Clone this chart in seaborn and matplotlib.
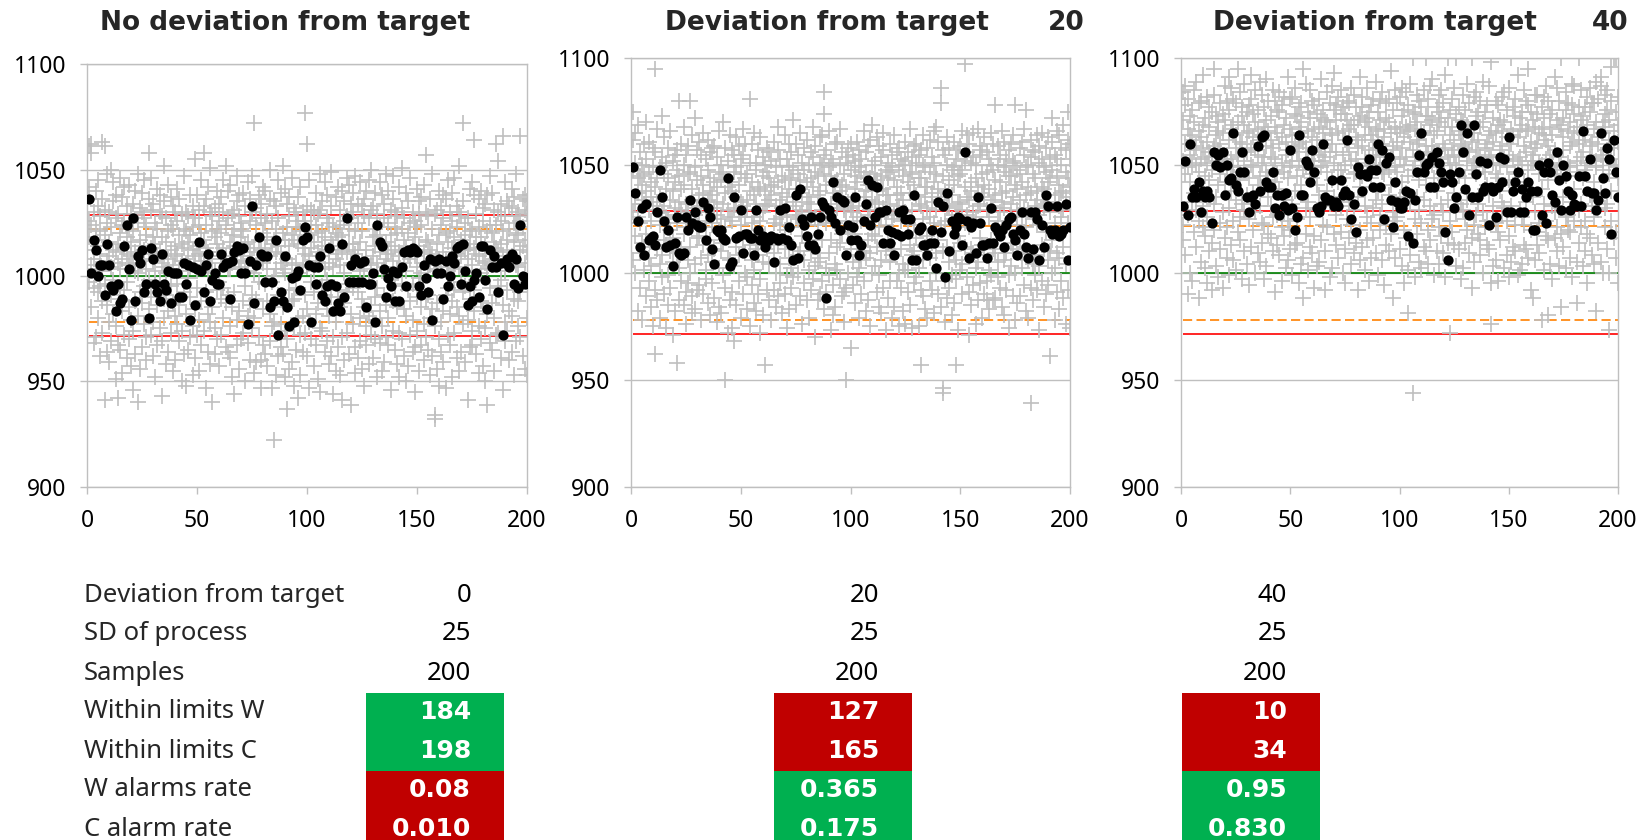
import matplotlib

matplotlib.use("Agg")
import matplotlib.pyplot as plt
import numpy as np
import pandas as pd
import seaborn as sns

# control chart settings
target = 1000
shifts = [0, 20, 40]
samples_per_point = 5
warn_limits = [978.1, 1021.9]
action_limits = [971.2, 1028.8]
panel_titles = ["No deviation from target", "Deviation from target", "Deviation from target"]
panel_title_values = ["", "20", "40"]

# sample means (black dots), one per sample
means_0 = [
    1036, 1001, 1017, 1012, 1000, 1005, 1005, 991, 1015, 1005,
    995, 993, 983, 996, 987, 989, 1014, 1024, 1003, 979,
    1027, 988, 1009, 1006, 1012, 992, 996, 980, 1013, 1008,
    996, 992, 988, 1010, 996, 993, 1002, 987, 1001, 1001,
    1001, 990, 990, 1006, 996, 1005, 979, 1004, 986, 1003,
    1016, 1002, 992, 1005, 1010, 988, 998, 1001, 996, 996,
    1010, 1004, 1006, 1006, 989, 1007, 1011, 1014, 1012, 1001,
    1013, 1001, 977, 1007, 1033, 987, 1005, 1018, 1010, 1009,
    997, 1009, 985, 997, 988, 1017, 972, 992, 988, 1009,
    985, 976, 999, 978, 1000, 1002, 993, 1017, 1023, 1018,
    1005, 978, 1004, 996, 1004, 1009, 991, 988, 995, 1013,
    996, 983, 995, 987, 983, 1015, 990, 1027, 997, 1005,
    997, 1008, 997, 1006, 997, 1007, 985, 996, 996, 1001,
    978, 1024, 1016, 1014, 1003, 990, 999, 995, 1002, 988,
    1001, 988, 1004, 1011, 995, 1012, 1011, 1013, 1012, 1011,
    995, 991, 1005, 999, 992, 1008, 979, 1007, 1001, 1008,
    1001, 989, 1007, 995, 1000, 1009, 1006, 1013, 1014, 996,
    1015, 1002, 986, 995, 988, 998, 1001, 990, 1014, 1014,
    998, 984, 1012, 1004, 1009, 1004, 992, 1006, 972, 1006,
    1008, 1004, 1010, 996, 1008, 994, 1024, 1000, 996, 999,
]
means_20 = [
    1049, 1037, 1024, 1012, 1030, 1008, 1032, 1015, 1016, 1017,
    1013, 1028, 1048, 1035, 1024, 1012, 1020, 1013, 1003, 1014,
    1026, 1009, 1008, 1009, 1026, 1020, 1034, 1023, 1028, 1022,
    1021, 1021, 1033, 1015, 1030, 1026, 1011, 1004, 1020, 1019,
    1020, 1016, 1015, 1044, 1003, 1005, 1035, 1016, 1017, 1029,
    1009, 1018, 1018, 1016, 1016, 1008, 1029, 1020, 1015, 1017,
    1012, 1016, 1015, 1017, 1005, 1016, 1015, 1029, 1016, 1030,
    1015, 1021, 1013, 1006, 1036, 1007, 1039, 1025, 1022, 1017,
    1013, 1026, 1013, 1011, 1018, 1026, 1033, 1031, 988, 1029,
    1026, 1042, 1023, 1035, 1020, 1034, 1033, 1008, 1022, 1015,
    1021, 1035, 1015, 1008, 1013, 1024, 1032, 1043, 1022, 1041,
    1026, 1040, 1028, 1028, 1014, 1029, 1020, 1014, 1019, 1008,
    1018, 1028, 1017, 1029, 1025, 1018, 1025, 1006, 1036, 1006,
    1020, 1021, 1013, 1013, 1008, 1014, 1020, 1014, 1002, 1033,
    1019, 1031, 998, 1037, 1010, 1024, 1018, 1021, 1026, 1025,
    1013, 1056, 1024, 1007, 1021, 1023, 1009, 1035, 1023, 1013,
    1013, 1007, 1014, 1030, 1014, 1021, 1019, 1017, 1020, 1012,
    1022, 1025, 1026, 1018, 1015, 1008, 1020, 1028, 1018, 1012,
    1007, 1028, 1011, 1028, 1025, 1006, 1022, 1012, 1036, 1031,
    1020, 1018, 1020, 1031, 1017, 1018, 1020, 1032, 1006, 1021,
]
means_40 = [
    1031, 1052, 1027, 1060, 1035, 1039, 1035, 1042, 1028, 1038,
    1035, 1038, 1035, 1023, 1056, 1050, 1055, 1049, 1056, 1036,
    1050, 1043, 1044, 1065, 1041, 1038, 1047, 1056, 1047, 1035,
    1028, 1035, 1036, 1032, 1059, 1038, 1063, 1064, 1042, 1040,
    1040, 1047, 1030, 1036, 1027, 1036, 1031, 1037, 1029, 1057,
    1030, 1020, 1026, 1064, 1036, 1036, 1052, 1050, 1042, 1057,
    1047, 1030, 1028, 1031, 1060, 1035, 1034, 1034, 1043, 1031,
    1033, 1031, 1043, 1036, 1038, 1062, 1036, 1025, 1032, 1019,
    1049, 1046, 1038, 1046, 1045, 1053, 1048, 1040, 1048, 1060,
    1040, 1057, 1025, 1051, 1054, 1034, 1021, 1042, 1033, 1030,
    1030, 1033, 1038, 1017, 1037, 1014, 1034, 1047, 1055, 1065,
    1047, 1050, 1051, 1040, 1054, 1040, 1056, 1051, 1047, 1042,
    1019, 1006, 1046, 1042, 1030, 1035, 1047, 1069, 1056, 1039,
    1065, 1027, 1035, 1069, 1046, 1035, 1052, 1038, 1040, 1051,
    1022, 1040, 1038, 1026, 1040, 1054, 1042, 1053, 1028, 1063,
    1028, 1038, 1042, 1047, 1028, 1039, 1028, 1035, 1042, 1038,
    1020, 1020, 1038, 1050, 1027, 1047, 1023, 1051, 1047, 1036,
    1033, 1056, 1043, 1029, 1050, 1045, 1038, 1029, 1036, 1032,
    1031, 1045, 1031, 1066, 1045, 1038, 1053, 1037, 1037, 1029,
    1034, 1065, 1044, 1037, 1058, 1053, 1018, 1062, 1047, 1035,
]

# individual measurements (grey crosses), 5 per sample, offset from the process mean
obs_0 = [
    61, 42, 18, -3, 26, 62, 24, 5, -15, 58,
    -32, 12, 30, 8, -6, 40, 17, -29, 3, 22,
    14, -20, 33, -8, 45, -5, 28, -38, 10, 21,
    63, -12, 36, 2, -27, 61, -59, 19, -4, 31,
    7, -36, 25, 48, -14, 9, 30, -22, -41, 16,
    50, -9, 23, -31, 4, 44, 12, -18, 35, -2,
    -49, 27, 11, -24, 38, 15, -58, 6, 29, -33,
    20, -11, 46, -35, 3, -17, 37, 24, -46, 8,
    26, -7, -28, 13, 42, -39, 18, -3, 33, 10,
    43, -15, 22, -30, 5, 29, -43, 9, 16, -21,
    -54, 21, 6, -26, 34, 11, -12, 40, -37, 2,
    48, -60, 25, 1, -19, 32, -8, -44, 17, 14,
    30, -13, 8, 39, -34, -23, 45, 12, -5, 27,
    19, -40, 3, 23, -29, 36, -16, 58, -2, 10,
    -28, 13, 31, -10, 46, 7, -22, 34, -38, 18,
    2, 25, -48, 15, -6, 22, -33, 41, 9, -14,
    30, -25, 11, -3, 38, -57, 18, 6, -31, 28,
    4, 35, -20, 52, -11, 16, -42, 27, 1, -9,
    -17, 43, 8, -36, 21, 12, -27, 37, -5, 24,
    5, -45, 22, 33, -13, -19, 30, 9, -40, 14,
    26, -4, 41, -23, 10, 36, -14, 2, -31, 19,
    -50, 15, 7, -26, 29, 13, -37, 22, 47, -8,
    21, -52, 6, 30, -18, 8, 28, -35, 16, -1,
    38, -10, 19, -29, 4, -24, 12, 33, -47, 23,
    55, -16, 27, -39, 9, 14, 38, -6, -28, 2,
    -21, 31, 10, -45, 24, 20, -33, 45, 7, -12,
    58, 17, -26, 5, 33, -53, 13, 24, -8, 36,
    11, -36, 42, 1, -18, 51, -22, 9, 30, -42,
    -15, 28, -60, 21, 6, 32, 2, -37, 18, -25,
    22, 40, -7, -30, 15, -3, 26, -43, 11, 34,
    -11, 20, 37, -28, 8, -6, 45, 13, -20, 30,
    9, -34, 24, -13, 52, 27, -9, 40, -36, 3,
    -24, 16, 3, 43, -39, 19, -48, 29, 6, -15,
    31, -56, 14, -8, 22, 10, 35, -21, 47, -33,
    4, 28, -17, 38, -44, 18, 22, -30, 7, 25,
    -12, 39, 21, -27, 9, 33, -5, 15, -50, 2,
    16, -19, 44, 6, -32, 26, -14, 36, -40, 11,
    8, 30, -25, 47, -9, -46, 13, 72, -20, 1,
    24, -11, 5, -41, 32, 17, -29, 38, 7, -3,
    12, -40, 34, 27, -53, 20, 6, -16, 42, -33,
    -4, 25, -37, 13, 40, 3, 29, -12, -43, 18,
    -18, 36, 9, -31, 50, 26, -3, -53, 15, -24,
    35, 0, -22, 17, -78, 33, -47, 11, 3, 22,
    -38, 14, 27, -9, 45, 10, -23, 39, -34, 6,
    20, -37, 52, 3, -15, 41, 1, -48, -26, 17,
    -63, 23, 8, -30, 34, 28, -44, 14, -7, 37,
    19, -12, 46, -41, 5, -24, 17, 32, -11, -52,
    6, 30, -35, 23, -6, 15, -58, 26, 37, -20,
    21, 1, -28, 42, -47, 13, -19, 30, 5, -36,
    77, 26, -9, 10, -27, 62, 33, -16, 4, -38,
    9, -53, 19, 45, -22, 31, -3, 13, -30, 24,
    -8, 30, -43, 16, 2, 39, -18, 24, -33, 7,
    29, 11, -49, 20, -13, 48, -55, 9, 31, -25,
    14, -26, 35, -5, 21, -36, 18, 44, -9, 3,
    -16, 27, -2, 38, -31, 12, -42, 25, 6, -19,
    33, -10, 17, -38, 49, 4, 23, -29, 14, -56,
    -45, 20, 8, -22, 37, 18, -7, 42, -34, 10,
    24, -15, 31, -47, 5, -29, 12, 40, -59, 19,
    -13, 35, 1, 26, -40, 28, -8, -27, 46, 11,
    43, -37, 15, 22, -4, -61, 34, 6, -18, 27,
    15, -23, 39, -6, 30, 10, -34, 21, -46, 47,
    25, -8, -39, 12, 34, -20, 44, 2, -31, 16,
    -11, 33, 21, -44, 7, 36, -15, 28, -52, 3,
    12, 40, -24, 8, -33, -19, 27, -3, 45, -42,
    31, -14, 5, 50, -28, 18, -39, 33, 9, -21,
    -30, 22, 14, -10, 39, 6, -48, 19, 29, -6,
    23, -32, 44, 11, -17, 38, -24, 2, 15, -45,
    -9, 27, -41, 34, 4, 16, -14, 48, -29, 8,
    40, -20, 10, -33, 25, -54, 12, 31, -2, 19,
    -26, 7, 36, -12, 47, 23, -35, 14, -5, 30,
    20, -42, 28, 3, -15, 11, 42, -27, 9, -48,
    32, -4, -30, 22, 51, -16, 27, -38, 6, 17,
    -19, 13, 39, -50, 2, 35, -7, 20, -43, 10,
    8, -28, 25, 46, -12, -21, 30, -4, 14, -36,
    26, 9, -34, 18, -55, 41, -10, 23, -26, 4,
    35, -45, 14, -1, 29, 1, 24, -33, 37, -15,
    11, -23, 43, -40, 6, 57, 17, -11, -29, 30,
    -35, 28, 3, 16, -9, 12, -47, 36, -20, 5,
    22, -38, 10, 48, -16, -66, -68, 29, 6, -24,
    15, 31, -13, 2, -44, 40, -30, 19, 8, -52,
    -22, 4, 33, -36, 24, 11, -17, 38, -41, 27,
    36, -9, 20, -53, 8, -28, 16, 45, -6, 2,
    21, -33, 7, 30, -18, 39, -12, 26, -48, 13,
    -7, 46, -27, 18, 3, 23, -39, 10, 33, -15,
    30, -19, 52, 4, -45, -3, 17, -36, 28, 9,
    72, 14, -23, 35, -8, 25, -41, 12, -5, 19,
    12, -59, 27, 8, -21, 15, 41, -34, 21, -11,
    -33, 22, 5, 44, -26, 38, 64, -7, 13, -17,
    10, -37, 29, -2, 18, -24, 9, 36, -46, 23,
    18, -12, 40, -30, 1, -15, 32, 7, -43, 26,
    6, 34, -25, 14, -50, -61, 21, 3, 38, -18,
    24, -6, 47, -32, 10, 39, -13, 20, -35, 5,
    -20, 16, 31, -45, 8, 13, 62, -28, 24, -9,
    54, -27, 11, 30, -5, -2, 26, -39, 15, 34,
    -14, 66, -54, 9, 21, 28, -22, 44, 2, -31,
    17, -7, 35, -26, 12, -40, 22, 6, 33, -17,
    9, 32, -19, 41, -36, 25, -11, 16, -47, 37,
    28, 5, -31, 19, 48, 4, -24, 30, -12, 20,
    66, -29, 12, -8, 26, -38, 14, 36, -3, 23,
    17, -44, 31, 38, 6, 29, -47, 11, 35, -20,
]
obs_20 = [
    42, 28, -14, 55, 8, 31, -20, 45, 12, -3,
    17, -38, 24, 6, 49, 25, 36, -11, 3, -27,
    -6, 30, 14, -42, 21, 12, -19, 40, -8, 26,
    33, -2, -31, 18, 50, 9, 27, -24, 41, -13,
    15, -36, 22, 4, -17, 38, -45, 11, 29, -5,
    75, -58, 20, -28, 36, -9, 24, -33, 13, 47,
    2, 29, -41, 15, -16, 34, -22, 8, 53, -12,
    26, -30, 11, 43, -5, 19, -7, -46, 31, 6,
    38, -21, 5, -35, 24, 14, -27, 46, 0, -10,
    -15, 32, 18, -4, -49, 22, 7, -38, 35, 10,
    28, -11, -62, 37, 3, 60, -18, 13, -33, 25,
    -24, 40, 9, -9, 19, 30, -35, 21, -2, 48,
    12, -29, 35, 1, -44, 26, -14, 39, -25, 8,
    60, 5, -20, 27, -8, 19, -39, 44, 14, -31,
    29, -16, 7, -37, 52, 10, 23, -4, -28, 37,
    -3, 41, -26, 16, 4, 35, -13, 25, -42, 11,
    21, -7, 45, -30, 17, 8, -23, 33, 1, -19,
    -34, 14, 28, -12, 42, 24, -5, -40, 18, 36,
    16, -25, 3, 38, -15, 39, -32, 10, -9, 22,
    7, 34, -43, 20, 13, -18, 46, -1, 27, -36,
    30, -10, 23, -39, 5, -6, 26, 50, -21, 12,
    -70, 38, 1, 17, -27, -48, 20, 32, -13, 9,
    22, -33, 44, 6, -14, 18, 37, -29, 4, -46,
    10, 27, -17, 35, -52, 29, -8, 15, -35, 43,
    -12, 39, 8, -24, 21, 13, -41, 26, 2, 33,
    35, -4, -30, 47, 11, -20, 24, -11, 40, 6,
    9, -37, 26, 14, -22, 61, 18, -45, 31, -7,
    -26, 22, 40, -14, 3, 16, -34, 6, 45, -19,
    31, -9, 12, -38, 28, -12, 37, -6, 20, -30,
    4, 43, -23, 19, -48, 25, -15, 34, 8, -40,
    -63, 18, 30, -2, 11, 27, -28, 12, 38, -9,
    14, 36, -16, 24, -33, -5, 21, -42, 16, 32,
    20, -28, 3, 41, -11, 11, -20, 29, 5, -36,
    37, -7, 22, -31, 48, -16, 33, 2, -25, 14,
    6, 25, -39, 10, 17, -9, 44, -30, 23, 0,
    -21, 33, 15, -46, 7, 29, -13, 19, -37, 40,
    24, 1, -27, 36, -18, 13, 28, -8, 51, -22,
    11, -35, 19, 6, 40, -20, 5, 35, -12, 26,
    -31, 23, 7, 45, -10, 17, -44, 31, 9, -3,
    28, -14, 38, -25, 3, 22, -6, 42, -33, 13,
    8, 30, -19, 15, -41, 36, 12, -28, 24, -10,
    -8, 20, 48, -23, 34, 5, -17, 39, -50, 27,
    16, -33, 25, 2, -15, -30, 31, -13, 43, 18,
    44, 9, -24, 30, -5, 26, -37, 64, 54, 35,
    -18, 37, 3, -29, 21, 8, 46, -21, 29, -11,
    25, -5, 33, -47, 12, 31, 4, -26, 17, -40,
    3, 40, -16, 22, -36, -8, 23, 41, -19, 10,
    18, -23, 30, -6, 47, 36, -31, 15, -2, 21,
    -29, 11, 26, -43, 9, 20, -70, 34, -27, 4,
    31, -20, 13, 38, -1, 10, -55, 28, -9, 40,
    14, 35, -26, 8, -15, -2, 25, -34, 19, 32,
    22, -9, 41, -22, 6, 29, -18, 11, -41, 37,
    -14, 27, 4, 33, -30, 15, 46, -10, 24, -24,
    36, -13, 18, -38, 27, 7, -33, 21, 39, -5,
    9, 42, -11, 24, -45, 30, -2, -20, 14, 49,
    26, -17, 32, -3, 12, 18, -29, 43, -8, 23,
    -36, 13, 1, 39, -21, 25, -14, 6, 34, -39,
    19, 37, -27, 10, 45, -10, 28, -47, 16, 2,
    -6, 24, 16, -32, 31, 40, -24, 12, -15, 27,
    29, -41, 35, 5, -12, 23, 7, -36, 44, -9,
    -24, 16, 9, 36, 20, 11, 28, -20, -45, 38,
    4, -27, 33, 17, -9, 30, -38, 14, 25, -16,
    32, 8, -19, 41, -44, -19, 36, 3, -29, 22,
    17, -35, 26, -7, 47, 9, -12, 34, -46, 27,
    -10, 21, 39, -25, 2, 31, -22, 16, 40, -4,
    24, -45, 12, 35, -18, 37, -63, 24, 11, -28,
    5, 30, -14, 44, -31, 15, 29, -8, -37, 20,
    38, -3, 20, -41, 10, -13, 42, 6, 27, -24,
    13, 34, -28, 17, -6, 22, -39, 31, 3, 46,
    -20, 9, 48, -11, 26, 41, 15, -30, -5, 19,
    66, 59, 2, -36, 14, 25, -74, -76, 37, -10,
    35, -24, 18, 4, -43, -8, 30, 10, -32, 43,
    11, -15, 38, -27, 23, 16, -40, 28, 5, -21,
    21, 41, -10, 29, -34, -63, 7, -23, 33, -14,
    -3, 25, -47, 12, 37, 39, -19, 26, -6, 13,
    28, -30, 9, 46, -16, 3, 32, 77, 20, -8,
    15, 36, -22, 7, 44, 14, -29, 40, 1, -49,
    -9, 22, 31, -35, 18, 34, -11, 8, 45, -26,
    30, -18, 6, 24, -44, 20, 47, -15, 11, -33,
    12, 39, -25, 35, -4, -7, 26, -41, 17, 37,
    21, -12, 43, -30, 15, 27, -24, 9, -33, 36,
    6, 33, -19, 19, -37, 11, 45, -5, 30, -21,
    -33, 14, 28, -9, 40, 23, -32, 16, 58, -11,
    39, -22, 4, 30, -15, 8, 35, -27, 22, -1,
    17, 46, -36, 13, 0, 29, -14, 41, -40, 10,
    -11, 27, 18, -28, 33, 37, 4, -21, 25, -46,
    25, -6, 40, -17, 12, -31, 15, 32, -9, 44,
    31, 58, -20, 21, -42, 9, -34, 28, 2, 19,
    -4, 38, 14, -31, 26, 22, -18, 41, -11, 6,
    35, -26, 10, 47, -8, 16, 56, -38, 29, 1,
    9, 30, -41, 20, -14, 42, -81, 17, -27, 34,
    26, -16, 37, 5, -33, -12, 24, 36, -21, 11,
    14, 44, -28, 18, 2, 31, -47, 7, 39, -17,
    -7, 20, 33, -24, 45, 19, -9, 29, -36, 10,
    38, -30, 12, 27, -1, 13, 43, -26, 22, -14,
    24, -10, -59, 34, 8, 28, -20, 52, -5, 41,
    3, 35, -18, 16, -42, 33, -11, 25, 46, -29,
    44, -13, 21, -37, 11, 17, 38, -24, 6, 30,
    18, 49, -32, 9, -8, 37, -16, 27, -44, 15,
    24, -28, 42, 3, 55, 40, -46, 12, 33, 20,
]
obs_40 = [
    44, -18, 31, 12, -25, 38, 6, -32, 20, 47,
    -50, 27, 9, 41, -13, 15, -40, 33, 2, 24,
    36, -7, 22, -44, 11, 30, -21, 45, -3, 17,
    10, 49, -28, 19, -11, -52, 26, 7, 39, -16,
    23, -35, 13, 40, -4, 18, 52, -19, 29, -9,
    -38, 14, 32, -23, 5, 42, -14, 21, -45, 11,
    28, 3, -30, 37, 16, 8, 35, -26, 14, -48,
    55, -20, 19, -8, 43, 24, -37, 12, 33, -5,
    1, 30, -42, 17, 26, -17, 39, 6, -29, 20,
    34, -12, 25, -47, 10, 13, 47, -24, 2, 31,
    15, -33, 40, 8, -19, 51, 22, -10, 36, -41,
    -2, 27, -27, 46, 13, 29, -16, 9, 41, -34,
    39, -6, 18, -39, 24, 7, 55, -21, 14, 30,
    21, 44, -25, 3, -14, 33, -43, 20, 37, -8,
    -30, 12, 29, -11, 48, 16, -4, 35, -36, 25,
    26, -15, 4, 38, -46, 41, 18, -28, 10, 52,
    9, 34, -20, 23, -3, -12, 30, 45, -40, 17,
    36, -31, 15, 1, 27, 22, -9, -35, 49, 5,
    -17, 24, 43, -26, 11, 37, -18, 14, -43, 28,
    31, 7, -37, 19, 50, -5, 26, 3, -22, 40,
    14, -24, 33, -9, 22, 45, -30, 18, 8, -14,
    2, 40, -49, 28, 13, 25, -13, 36, -27, 6,
    35, -1, 20, -32, 44, 11, 38, -19, 23, -44,
    -12, 29, 7, 42, -23, 32, -6, 15, -38, 21,
    17, 51, -16, 4, -34, -20, 27, 41, 9, -29,
    42, -8, 24, -41, 12, 19, -27, 34, -2, 46,
    5, 33, -26, 16, -15, 37, 12, -45, 28, 20,
    25, -36, 39, 1, 30, 55, 8, -52, 21, -33,
    -22, 18, 9, 48, -10, 26, -39, 13, 35, -7,
    32, -14, 45, -28, 6, 4, 23, -31, 40, 16,
    12, 38, -23, 27, -47, 34, -11, 22, 1, -37,
    28, -4, 15, -35, 41, 18, 50, -25, 9, 32,
    -9, 25, 36, -18, 12, -30, 14, 31, -48, 22,
    44, -19, 7, 30, -2, 27, -8, 39, 16, -42,
    20, 3, -38, 24, 47, 11, 36, -22, 53, -5,
    -27, 31, 16, -13, 38, 25, -33, 8, 42, 2,
    8, 45, -21, 34, -9, 15, 4, -40, 26, 37,
    34, -29, 22, 10, -45, 40, -15, 20, 31, -3,
    16, 39, -7, 27, -24, -36, 29, 12, 46, -18,
    29, -11, 43, -31, 6, 23, 7, -26, 37, 13,
    -5, 31, 18, -48, 22, 51, -20, 33, 0, -34,
    37, 5, -28, 19, 42, 13, 30, -9, -39, 24,
    11, -25, 32, 46, -14, 28, -44, 17, 35, 6,
    24, 38, -17, 4, -33, -10, 22, 41, -24, 15,
    -31, 14, 27, -6, 49, 35, -2, 18, -41, 26,
    40, -20, 10, 31, -13, 20, -34, 44, 7, -8,
    6, 27, -46, 23, 15, 32, 11, -18, 39, -27,
    30, -4, 41, -30, 8, 1, 54, -22, 25, 14,
    19, 36, -12, 17, -52, 45, -16, 28, -33, 9,
    -14, 25, 7, 39, 21, 27, -29, 13, -5, 42,
    33, -37, 18, 2, 46, 10, -20, 36, -45, 23,
    -3, 28, -24, 44, 14, 38, 5, -59, 26, -39,
    21, 48, -8, 29, -32, 17, -96, 35, 60, 8,
    12, -15, 34, -42, 27, 30, -5, 20, 43, -22,
    40, 3, -35, 22, -11, -17, 26, 8, 37, -38,
    25, -28, 45, 13, -6, 60, 19, -30, 33, 1,
    -20, 33, 15, -36, 41, 12, -9, 47, -25, 29,
    31, 10, -15, 50, 19, 24, -41, 16, 4, -13,
    9, 37, -30, 26, -2, 35, -19, 30, -36, 43,
    45, -23, 13, -8, 32, 20, -12, 39, 6, -31,
    3, 28, -42, 18, 52, 60, 14, -26, 32, -6,
    36, -16, 24, -68, 11, 7, 41, -21, 17, 28,
    22, 46, -3, -27, 15, 60, -37, 10, 34, -12,
    14, -29, 37, 5, 26, 31, -8, 24, -43, 19,
    -11, 30, 20, -38, 43, 18, 36, -15, 4, -26,
    29, -6, 48, 12, -20, 39, -31, 16, 27, -3,
    60, 21, -24, 8, -47, 25, 11, -18, 42, -35,
    33, -13, 6, 44, 17, 22, -22, 35, -8, 13,
    -25, 40, 14, -32, 28, 9, 49, -12, 30, -40,
    18, -1, 35, -19, 7, 38, -27, 20, 1, -16,
    47, 24, -29, 15, -4, 58, 14, -64, -45, 26,
    11, -37, 32, 21, -9, 25, -17, 40, -34, 6,
    38, 4, -21, 29, -44, 10, 31, -2, 17, -25,
    -7, 26, 42, -13, 19, 30, -38, 13, 44, -10,
    23, -32, 9, 36, -16, 15, 46, -23, 3, -42,
    60, 20, -9, 27, -35, 13, -28, 37, 1, 24,
    7, 41, -18, 33, -30, 52, 6, -41, 23, 12,
    32, -11, 26, -39, 14, -14, 35, 10, -36, 29,
    -18, 45, 2, 19, -27, 26, 16, -29, 40, -7,
    27, -33, 38, 8, 55, 35, -20, 21, -48, 12,
    15, 31, -52, 12, -5, -12, 28, 43, -34, 18,
    43, -21, 20, -27, 34, 6, -31, 25, 11, -17,
    -1, 37, 10, -62, 27, 24, 42, -8, 32, -39,
    22, -16, 47, 13, -23, 40, 3, -25, 19, -60,
    34, 9, -36, 28, 15, -9, 24, 36, -43, 11,
    6, 51, -24, 17, -12, 31, -19, 46, 8, -30,
    29, -10, 14, -37, 40, 10, 60, -22, 27, -56,
    17, 32, -28, 23, -5, 36, -14, 5, 44, -38,
    -13, 26, 39, -20, 11, 19, -33, 30, 9, -21,
    38, -7, 21, 48, -42, 25, 47, -16, 34, -1,
    12, 28, -35, 7, -54, 60, -11, 20, -26, 37,
    31, -19, 45, 14, -8, 16, 33, -37, 22, 4,
    24, 8, -30, 37, -16, 42, -22, 11, 29, -45,
    -4, 35, 19, -24, 46, 21, -9, 39, -32, 14,
    39, -14, 27, 2, -36, 30, 12, -58, 49, 9,
    20, -26, 41, -11, 23, 47, 51, -35, 15, -3,
    8, 30, -40, 25, 13, 34, -19, 28, -10, 43,
    45, -8, 17, -29, 36, -67, 22, 6, -40, 31,
    13, 40, -16, 56, -2, 26, 10, 60, -24, 18,
    60, -21, 35, 9, -33, 29, -45, 42, 4, 21,
]

# summary table below the charts
row_labels = [
    "Deviation from target", "SD of process", "Samples", "Within limits W",
    "Within limits C", "W alarms rate", "C alarm rate",
]
col_values_0 = ["0", "25", "200", "184", "198", "0.08", "0.010"]
col_values_20 = ["20", "25", "200", "127", "165", "0.365", "0.175"]
col_values_40 = ["40", "25", "200", "10", "34", "0.95", "0.830"]
first_flag_row = 3
flag_good_0 = [True, True, False, False]
flag_good_20 = [False, False, True, True]
flag_good_40 = [False, False, True, True]

GREY = "#BFBFBF"
GOOD = "#00B050"
BAD = "#C00000"
BOLD_FONT = ["DejaVu Sans"]

sns.set_theme(style="white")
plt.rcParams["font.family"] = ["Noto Sans", "DejaVu Sans"]

fig = plt.figure(figsize=(16.47, 8.4), dpi=100)
boxes = [
    [0.0528, 0.4202, 0.2672, 0.5036],
    [0.3831, 0.4202, 0.2666, 0.5107],
    [0.7171, 0.4202, 0.2653, 0.5107],
]
title_x = [0.173, 0.502, 0.835]
value_x = [None, 0.6588, 0.9885]

for i, (means, obs, shift) in enumerate(zip([means_0, means_20, means_40], [obs_0, obs_20, obs_40], shifts)):
    ax = fig.add_axes(boxes[i])
    mean_df = pd.DataFrame({"sample": np.arange(1, len(means) + 1), "value": means})
    obs_df = pd.DataFrame({
        "sample": np.arange(len(obs)) // samples_per_point + 1,
        "value": target + shift + np.array(obs),
    })
    x0, x1 = mean_df["sample"].min(), mean_df["sample"].max()

    ax.hlines(target, x0, x1, color="#008000", lw=1.2, zorder=1)
    ax.hlines(warn_limits, x0, x1, color="#FF8000", lw=1.2, linestyles=[(0, (5.5, 2.6))], zorder=1)
    ax.hlines(action_limits, x0, x1, color="#FF0000", lw=1.2, zorder=1)

    sns.scatterplot(data=obs_df, x="sample", y="value", marker="+", s=120, color="#BFBFBF",
                    linewidth=1.2, ax=ax, zorder=2)
    sns.scatterplot(data=mean_df, x="sample", y="value", s=55, color="black", linewidth=0,
                    ax=ax, zorder=3)

    ax.set_xlim(0, 200)
    ax.set_ylim(900, 1100)
    ax.set_xticks([0, 50, 100, 150, 200])
    ax.set_yticks([900, 950, 1000, 1050, 1100])
    ax.set_xlabel("")
    ax.set_ylabel("")
    ax.yaxis.grid(True, color=GREY, lw=1)
    ax.set_axisbelow(True)
    for sp in ax.spines.values():
        sp.set_color(GREY)
        sp.set_linewidth(1)
    ax.tick_params(axis="both", which="both", bottom=True, left=True, direction="out", length=5,
                   width=1, color=GREY, labelsize=16.5, labelcolor="black")
    ax.tick_params(axis="y", pad=10)
    ax.tick_params(axis="x", pad=11)

    fig.text(title_x[i], 0.9726, panel_titles[i], ha="center", va="center", fontsize=19,
             fontweight="bold", family=BOLD_FONT)
    if panel_title_values[i]:
        fig.text(value_x[i], 0.9726, panel_title_values[i], ha="right", va="center",
                 fontsize=19, fontweight="bold", family=BOLD_FONT)

# table axis: x in column units, y in row units
tab = fig.add_axes([0, 0, 1, 280 / 840])
col_step = 408
col0_px = 435
tab.set_xlim(-col0_px / col_step, (1647 - col0_px) / col_step)
row_step = 39
row0_px = 595
tab.set_ylim((840 - row0_px) / row_step, (560 - row0_px) / row_step)
tab.axis("off")

for r, label in enumerate(row_labels):
    tab.text((84 - col0_px) / col_step, r, label, ha="left", va="center", fontsize=18.5)

cell_width = 138 / col_step
text_off = 36 / col_step
for c, (vals, flags) in enumerate(zip([col_values_0, col_values_20, col_values_40],
                                       [flag_good_0, flag_good_20, flag_good_40])):
    rows = np.arange(first_flag_row, first_flag_row + len(flags))
    tab.bar(x=[c] * len(rows), height=1, bottom=rows - 0.5, width=cell_width,
            color=[GOOD if f else BAD for f in flags], linewidth=0)
    for r, v in enumerate(vals):
        if r >= first_flag_row:
            tab.text(c + text_off, r, v, ha="right", va="center", fontsize=18,
                     color="white", fontweight="bold", family=BOLD_FONT)
        else:
            tab.text(c + text_off, r, v, ha="right", va="center", fontsize=18.5, color="black")

fig.savefig("out.png", dpi=100)
plt.close(fig)
